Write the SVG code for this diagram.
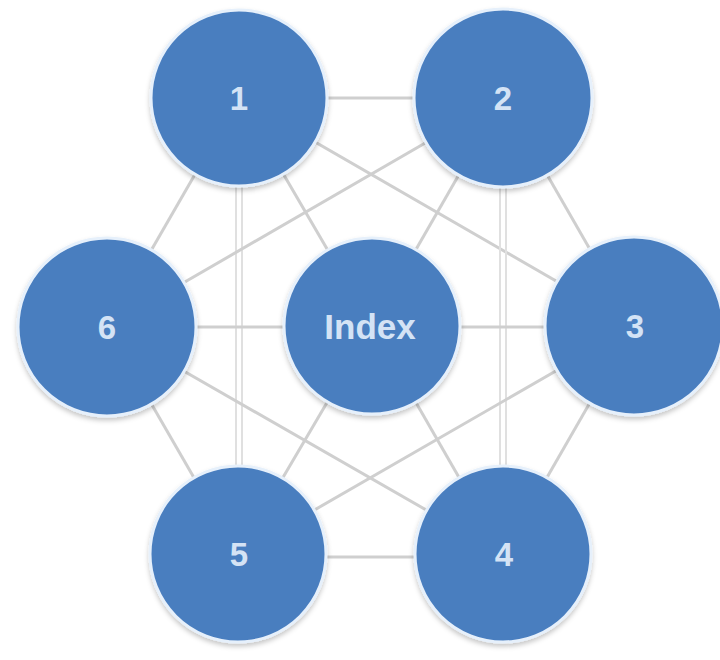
<svg xmlns="http://www.w3.org/2000/svg" width="720" height="660" viewBox="0 0 720 660">
<defs>
<filter id="sh" x="-20%" y="-20%" width="140%" height="140%">
<feDropShadow dx="0" dy="3" stdDeviation="2.5" flood-color="#000" flood-opacity="0.22"/>
</filter>
<style>
.edge{stroke:#cfcfcf;stroke-width:3;fill:none}
.dbl{stroke:#e0e0e0;stroke-width:2;fill:none}
.node circle{fill:#4a7ebf;stroke:#e6f0fb;stroke-width:3;filter:url(#sh)}
.node text{fill:#d4e3f5;font-family:"Liberation Sans",Arial,sans-serif;font-size:33px;font-weight:bold;text-anchor:middle}
.node text.b{font-size:35px}
</style>
</defs>
<rect width="720" height="660" fill="#ffffff"/>
<g id="connectors">
<line class="edge" x1="239" y1="98" x2="503" y2="98"/>
<line class="edge" x1="239" y1="98" x2="107" y2="327"/>
<line class="edge" x1="239" y1="98" x2="372" y2="326"/>
<path class="dbl" d="M236,98 V554 M242,98 V554"/>
<line class="edge" x1="239" y1="98" x2="634" y2="326"/>
<line class="edge" x1="503" y1="98" x2="107" y2="327"/>
<line class="edge" x1="503" y1="98" x2="372" y2="326"/>
<path class="dbl" d="M500,98 V554 M506,98 V554"/>
<line class="edge" x1="503" y1="98" x2="634" y2="326"/>
<line class="edge" x1="107" y1="327" x2="372" y2="327"/>
<line class="edge" x1="107" y1="327" x2="238" y2="554"/>
<line class="edge" x1="107" y1="327" x2="503" y2="554"/>
<line class="edge" x1="372" y1="327" x2="634" y2="327"/>
<line class="edge" x1="372" y1="326" x2="238" y2="554"/>
<line class="edge" x1="372" y1="326" x2="503" y2="554"/>
<line class="edge" x1="634" y1="326" x2="238" y2="554"/>
<line class="edge" x1="634" y1="326" x2="503" y2="554"/>
<line class="edge" x1="238" y1="557" x2="503" y2="557"/>
</g>
<g id="node1" class="node"><circle cx="239" cy="98" r="88"/><text x="239" y="110">1</text></g>
<g id="node2" class="node"><circle cx="503" cy="98" r="89"/><text x="503" y="110">2</text></g>
<g id="node6" class="node"><circle cx="107" cy="327" r="89"/><text x="107" y="339">6</text></g>
<g id="nodeIndex" class="node"><circle cx="372" cy="326" r="88"/><text class="b" x="370" y="339">Index</text></g>
<g id="node3" class="node"><circle cx="634" cy="326" r="89"/><text x="635" y="338">3</text></g>
<g id="node5" class="node"><circle cx="238" cy="554" r="88"/><text x="239" y="566">5</text></g>
<g id="node4" class="node"><circle cx="503" cy="554" r="88"/><text x="504" y="566">4</text></g>
</svg>
